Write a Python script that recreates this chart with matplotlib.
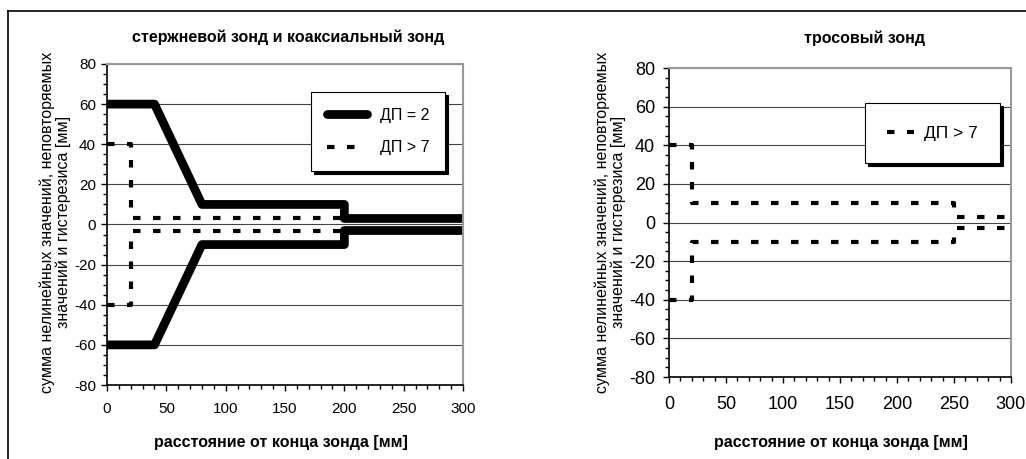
import matplotlib.pyplot as plt
from matplotlib.lines import Line2D
from matplotlib.ticker import MultipleLocator

plt.rcParams['font.family'] = ['Liberation Sans', 'DejaVu Sans']
plt.rcParams['axes.unicode_minus'] = False

# left panel: rod / coaxial probe
dp2_x = [0, 40, 80, 200, 200, 300]
dp2_upper = [60, 60, 10, 10, 3, 3]
dp2_lower = [-60, -60, -10, -10, -3, -3]

dp7_left_x = [0, 20, 20, 300]
dp7_left_upper = [40, 40, 3, 3]
dp7_left_lower = [-40, -40, -3, -3]

# right panel: cable probe
dp7_right_x = [0, 20, 20, 250, 250, 300]
dp7_right_upper = [40, 40, 10, 10, 3, 3]
dp7_right_lower = [-40, -40, -10, -10, -3, -3]

title_left = 'стержневой зонд и коаксиальный зонд'
title_right = 'тросовый зонд'
xlabel = 'расстояние от конца зонда [мм]'
ylabel = 'сумма нелинейных значений, неповторяемых\nзначений и гистерезиса [мм]'

fig = plt.figure(figsize=(10.26, 4.59), dpi=100)
ax1 = fig.add_axes([0.1043, 0.1612, 0.347, 0.6994])
ax2 = fig.add_axes([0.652, 0.1786, 0.3333, 0.6732])

thick = dict(color='black', lw=6.3, solid_joinstyle='round', solid_capstyle='round')
dotted = dict(color='black', lw=3, linestyle=(0, (1.8, 3.0)), dash_capstyle='butt')


def style(ax, fs, ypad, xpad):
    ax.set_xlim(0, 300)
    ax.set_ylim(-80, 80)
    ax.xaxis.set_major_locator(MultipleLocator(50))
    ax.xaxis.set_minor_locator(MultipleLocator(10))
    ax.yaxis.set_major_locator(MultipleLocator(20))
    ax.yaxis.set_minor_locator(MultipleLocator(5))
    ax.grid(axis='y', which='major', color='#444444', lw=0.8)
    ax.set_axisbelow(True)
    for s in ['top', 'right']:
        ax.spines[s].set_color('#999999')
        ax.spines[s].set_linewidth(1.5)
    ax.spines['left'].set_linewidth(1.2)
    ax.spines['bottom'].set_linewidth(1.2)
    ax.tick_params(which='both', direction='out', length=4, width=1, labelsize=fs)
    ax.tick_params(which='minor', length=3)
    ax.tick_params(axis='y', pad=ypad)
    ax.tick_params(axis='x', pad=xpad)


style(ax1, 11, 4, 8)
style(ax2, 13, 6, 10)

ax1.plot(dp2_x, dp2_upper, label='ДП = 2', **thick)
ax1.plot(dp2_x, dp2_lower, **thick)
ax1.plot(dp7_left_x, dp7_left_upper, label='ДП > 7', **dotted)
ax1.plot(dp7_left_x, dp7_left_lower, **dotted)

ax2.plot(dp7_right_x, dp7_right_upper, label='ДП > 7', **dotted)
ax2.plot(dp7_right_x, dp7_right_lower, **dotted)

leg1 = ax1.legend(loc='upper left', bbox_to_anchor=(0.573, 0.913), fancybox=False,
                  shadow={'color': 'black', 'alpha': 1}, framealpha=1,
                  edgecolor='black', fontsize=11.5, handlelength=2.5,
                  labelspacing=1.1, borderpad=1.0, handletextpad=0.8,
                  borderaxespad=0)
leg1.get_frame().set_linewidth(0.8)

leg2 = ax2.legend(loc='upper left', bbox_to_anchor=(0.573, 0.887), fancybox=False,
                  shadow={'color': 'black', 'alpha': 1}, framealpha=1,
                  edgecolor='black', fontsize=12.5, handlelength=1.5,
                  borderpad=1.3, handletextpad=0.6, borderaxespad=0)
leg2.get_frame().set_linewidth(0.8)

fig.text(0.281, 0.919, title_left, ha='center', va='center', fontsize=11.5, fontweight='bold')
fig.text(0.843, 0.917, title_right, ha='center', va='center', fontsize=11.5, fontweight='bold')
fig.text(0.274, 0.037, xlabel, ha='center', va='center', fontsize=11.5, fontweight='bold')
fig.text(0.82, 0.035, xlabel, ha='center', va='center', fontsize=11.5, fontweight='bold')
fig.text(0.054, 0.516, ylabel, ha='center', va='center', rotation=90, fontsize=11.5,
         linespacing=1.0)
fig.text(0.595, 0.516, ylabel, ha='center', va='center', rotation=90, fontsize=11.5,
         linespacing=1.0)

# outer frame (top and left edges visible)
fig.add_artist(Line2D([0.008, 1.0], [0.976, 0.976], color='black', lw=1.2))
fig.add_artist(Line2D([0.008, 0.008], [0.0, 0.976], color='black', lw=1.2))

fig.savefig('out.png', dpi=100)
